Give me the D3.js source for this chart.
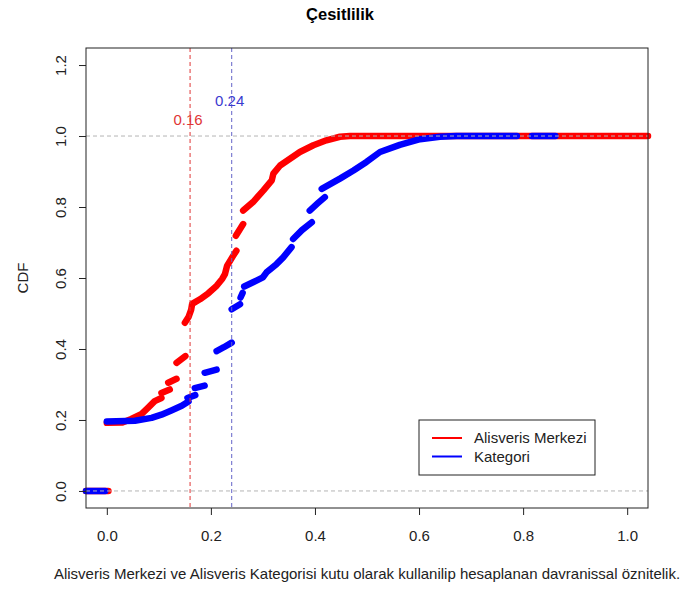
<!DOCTYPE html>
<html>
<head>
<meta charset="utf-8">
<script src="https://cdn.jsdelivr.net/npm/d3@7.9.0/dist/d3.min.js"></script>
<style>
  body { margin: 0; background: #fff; }
  svg { display: block; font-family: "Liberation Sans", Arial, sans-serif; }
</style>
</head>
<body>
<svg id="chart" width="681" height="590"></svg>
<script>
// ECDF runs (x value, cumulative share); a new run starts after each jump
const merkeziRuns = [
  [[-0.04, 0], [0.003, 0]],
  [[0.0, 0.192], [0.03, 0.193], [0.047, 0.203], [0.067, 0.217], [0.079, 0.234], [0.092, 0.253], [0.105, 0.262]],
  [[0.105, 0.276], [0.121, 0.286]],
  [[0.118, 0.305], [0.134, 0.316]],
  [[0.134, 0.361], [0.151, 0.38]],
  [[0.15, 0.474], [0.157, 0.49], [0.162, 0.51], [0.164, 0.527], [0.179, 0.54], [0.195, 0.557], [0.211, 0.578],
   [0.222, 0.598], [0.227, 0.611], [0.231, 0.634], [0.243, 0.663], [0.249, 0.677]],
  [[0.248, 0.719], [0.262, 0.752]],
  [[0.262, 0.79], [0.281, 0.814], [0.301, 0.847], [0.317, 0.875], [0.32, 0.894], [0.333, 0.917], [0.352, 0.936],
   [0.371, 0.955], [0.397, 0.974], [0.422, 0.988], [0.448, 0.998], [0.467, 1.0], [1.04, 1.0]]
];

const kategoriRuns = [
  [[-0.04, 0], [-0.003, 0]],
  [[0.0, 0.196], [0.054, 0.198], [0.086, 0.206], [0.105, 0.215], [0.124, 0.227], [0.144, 0.24], [0.157, 0.252]],
  [[0.155, 0.262], [0.17, 0.27]],
  [[0.169, 0.29], [0.188, 0.297]],
  [[0.188, 0.333], [0.211, 0.342]],
  [[0.211, 0.394], [0.225, 0.405], [0.24, 0.418]],
  [[0.24, 0.512], [0.256, 0.526]],
  [[0.257, 0.545], [0.261, 0.558]],
  [[0.264, 0.576], [0.281, 0.588], [0.3, 0.602], [0.307, 0.616], [0.326, 0.639], [0.339, 0.658], [0.355, 0.687]],
  [[0.358, 0.71], [0.375, 0.735], [0.394, 0.757]],
  [[0.39, 0.79], [0.405, 0.81], [0.419, 0.828]],
  [[0.413, 0.851], [0.448, 0.88], [0.474, 0.903], [0.499, 0.927], [0.525, 0.955], [0.563, 0.975],
   [0.602, 0.991], [0.64, 0.998], [0.672, 1.0], [0.788, 1.0]],
  [[0.817, 1.0], [0.862, 1.0]]
];

const seriesNames = ['Alisveris Merkezi', 'Kategori'];
const seriesColors = ['#ff0000', '#0000ff'];
const medians = [0.16, 0.24];
const medianLabels = ['0.16', '0.24'];
const xTicks = [0, 0.2, 0.4, 0.6, 0.8, 1.0];
const yTicks = [0, 0.2, 0.4, 0.6, 0.8, 1.0, 1.2];

const svg = d3.select('#chart');
const plotLeft = 86, plotRight = 648, plotTop = 48, plotBottom = 508;

const x = d3.scaleLinear().domain([-0.04, 1.04]).range([plotLeft, plotRight]);
const y = d3.scaleLinear().domain([-0.048, 1.248]).range([plotBottom, plotTop]);

// title
svg.append('text')
  .attr('x', 340).attr('y', 20)
  .attr('text-anchor', 'middle')
  .attr('font-size', 16.5).attr('font-weight', 'bold')
  .text('Çesitlilik');

// curves
const line = d3.line().x((d) => x(d[0])).y((d) => y(d[1]));
[merkeziRuns, kategoriRuns].forEach((runs, i) => {
  svg.append('g')
    .selectAll('path')
    .data(runs)
    .join('path')
    .attr('d', line)
    .attr('fill', 'none')
    .attr('stroke', seriesColors[i])
    .attr('stroke-width', 6.5)
    .attr('stroke-linecap', 'round')
    .attr('stroke-linejoin', 'round');
});

// reference lines
[0, 1].forEach((v) => {
  svg.append('line')
    .attr('x1', plotLeft).attr('x2', plotRight)
    .attr('y1', y(v)).attr('y2', y(v))
    .attr('stroke', '#b4b4b4')
    .attr('stroke-dasharray', '4,3');
});

const vColors = ['#e03535', '#6464c8'];
const tColors = ['#e03535', '#3a3ad0'];
const labelY = [1.03, 1.085];
medians.forEach((m, i) => {
  svg.append('line')
    .attr('x1', x(m)).attr('x2', x(m))
    .attr('y1', plotTop).attr('y2', plotBottom)
    .attr('stroke', vColors[i])
    .attr('stroke-dasharray', '4,3');
  svg.append('text')
    .attr('x', x(m) - 2).attr('y', y(labelY[i]))
    .attr('text-anchor', 'middle')
    .attr('font-size', 15)
    .attr('fill', tColors[i])
    .text(medianLabels[i]);
});

// axes
const xAxis = svg.append('g')
  .attr('transform', `translate(0,${plotBottom})`)
  .call(d3.axisBottom(x).tickValues(xTicks).tickSize(7).tickFormat(d3.format('.1f')));
xAxis.select('.domain').remove();
xAxis.selectAll('line').attr('stroke', '#222');
xAxis.selectAll('text')
  .attr('font-size', 15).attr('font-family', 'Liberation Sans, Arial, sans-serif')
  .attr('fill', '#222').attr('dy', null).attr('y', 33);

const yAxis = svg.append('g')
  .attr('transform', `translate(${plotLeft},0)`)
  .call(d3.axisLeft(y).tickValues(yTicks).tickSize(7).tickFormat(d3.format('.1f')));
yAxis.select('.domain').remove();
yAxis.selectAll('line').attr('stroke', '#222');
yAxis.selectAll('text')
  .attr('font-size', 15).attr('font-family', 'Liberation Sans, Arial, sans-serif')
  .attr('fill', '#222')
  .attr('x', null).attr('dy', null)
  .attr('text-anchor', 'middle')
  .attr('transform', 'translate(-20,0) rotate(-90)');

// box
svg.append('rect')
  .attr('x', plotLeft).attr('y', plotTop)
  .attr('width', plotRight - plotLeft).attr('height', plotBottom - plotTop)
  .attr('fill', 'none').attr('stroke', '#222');

// axis titles
svg.append('text')
  .attr('x', (plotLeft + plotRight) / 2).attr('y', 579)
  .attr('text-anchor', 'middle')
  .attr('font-size', 15).attr('fill', '#222')
  .text('Alisveris Merkezi ve Alisveris Kategorisi kutu olarak kullanilip hesaplanan davranissal öznitelik.');

svg.append('text')
  .attr('transform', `translate(28,${(plotTop + plotBottom) / 2}) rotate(-90)`)
  .attr('text-anchor', 'middle')
  .attr('font-size', 15).attr('fill', '#222')
  .text('CDF');

// legend
const legend = svg.append('g').attr('transform', 'translate(419,420)');
legend.append('rect')
  .attr('width', 176).attr('height', 55)
  .attr('fill', '#fff').attr('stroke', '#222');
seriesNames.forEach((name, i) => {
  const ly = 18 + i * 18.5;
  legend.append('line')
    .attr('x1', 13).attr('x2', 43)
    .attr('y1', ly).attr('y2', ly)
    .attr('stroke', seriesColors[i]).attr('stroke-width', 2);
  legend.append('text')
    .attr('x', 55).attr('y', ly + 5)
    .attr('font-size', 15).attr('fill', '#222')
    .text(name);
});
</script>
</body>
</html>
